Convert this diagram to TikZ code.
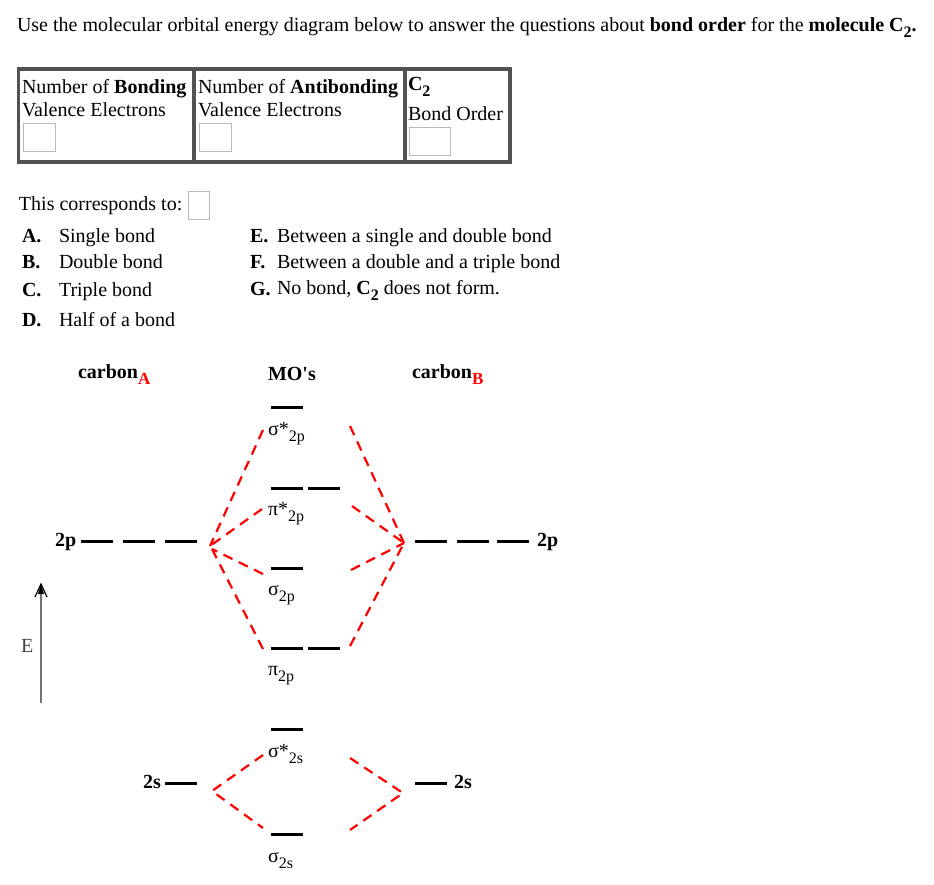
\documentclass[tikz,border=0pt]{standalone}
\usepackage{fontspec}
\setmainfont{Liberation Serif}[Ligatures=TeXOff]
\newcommand{\subtxt}[1]{\raisebox{-0.32em}{\fontsize{16}{16}\selectfont #1}}
\tikzset{
  txt/.style={anchor=base west,inner sep=0pt,outer sep=0pt,text=black,font=\fontsize{20}{22}\selectfont},
  lab/.style={txt,font=\fontsize{20}{22}\selectfont\bfseries},
  orb/.style={txt,font=\fontsize{20}{22}\selectfont},
  level/.style={fill=black,draw=none,inner sep=0pt,minimum height=3pt,minimum width=32pt},
  inbox/.style={draw=black!28,line width=0.9pt,fill=white,inner sep=0pt,anchor=north west},
  cell/.style={draw=black!68,line width=3.4pt,fill=none},
  mix/.style={draw=red,line width=2.2pt,dash pattern=on 10pt off 7pt}
}
\begin{document}
\begin{tikzpicture}[x=1pt,y=-1pt]
\useasboundingbox (0,0) rectangle (934,884);
\node[txt] (intro) at (17,31) {Use the molecular orbital energy diagram below to answer the questions about \textbf{bond order} for the \textbf{molecule C\subtxt{2}.}};
% table
\draw[cell] (18.5,69) rectangle (194,162);
\draw[cell] (194,69) rectangle (405,162);
\draw[cell] (405,69) rectangle (510,162);
\node[txt] (c1a) at (22,93) {Number of \textbf{Bonding}};
\node[txt] (c1b) at (22,116) {Valence Electrons};
\node[txt] (c2a) at (198,93) {Number of \textbf{Antibonding}};
\node[txt] (c2b) at (198,116) {Valence Electrons};
\node[txt] (c3a) at (408,90) {\textbf{C\subtxt{2}}};
\node[txt] (c3b) at (408,120) {Bond Order};
\node[inbox,minimum width=32pt,minimum height=28pt] (in1) at (23,123) {};
\node[inbox,minimum width=32pt,minimum height=28pt] (in2) at (199,123) {};
\node[inbox,minimum width=41pt,minimum height=28pt] (in3) at (409,127) {};
\node[txt] (corr) at (19,210) {This corresponds to:};
\node[inbox,minimum width=21pt,minimum height=28pt] (in4) at (188,191) {};
% options
\node[txt] (oa) at (22,242) {\textbf{A.}};
\node[txt] (ta) at (59,242) {Single bond};
\node[txt] (ob) at (22,268) {\textbf{B.}};
\node[txt] (tb) at (59,268) {Double bond};
\node[txt] (oc) at (22,296) {\textbf{C.}};
\node[txt] (tc) at (59,296) {Triple bond};
\node[txt] (od) at (22,326) {\textbf{D.}};
\node[txt] (td) at (59,326) {Half of a bond};
\node[txt] (oe) at (250,242) {\textbf{E.}};
\node[txt] (te) at (277,242) {Between a single and double bond};
\node[txt] (of) at (250,268) {\textbf{F.}};
\node[txt] (tf) at (277,268) {Between a double and a triple bond};
\node[txt] (og) at (250,295) {\textbf{G.}};
\node[txt] (tg) at (277,294) {No bond, \textbf{C\subtxt{2}} does not form.};
% headers
\node[lab] (carbA) at (78,378) {carbon\raisebox{-0.3em}{\textcolor{red}{\fontsize{17}{17}\selectfont A}}};
\node[lab] (mos) at (268,380) {MO's};
\node[lab] (carbB) at (412,378) {carbon\raisebox{-0.3em}{\textcolor{red}{\fontsize{17}{17}\selectfont B}}};
% MO levels
\node[level] (ss2p) at (287,407) {};
\node[level] (ps2pa) at (287,488) {};
\node[level] (ps2pb) at (324,488) {};
\node[level] (s2p) at (287,568) {};
\node[level] (p2pa) at (287,648) {};
\node[level] (p2pb) at (324,648) {};
\node[level] (ss2s) at (287,729) {};
\node[level] (s2s) at (287,834) {};
% atom levels
\node[level] (la) at (97,541) {};
\node[level] (lb) at (139,541) {};
\node[level] (lc) at (181,541) {};
\node[level] (ra) at (431,541) {};
\node[level] (rb) at (473,541) {};
\node[level] (rc) at (513,541) {};
\node[level] (ls) at (181,783) {};
\node[level] (rs) at (431,783) {};
\node[lab] (l2p) at (55,546) {2p};
\node[lab] (r2p) at (537,546) {2p};
\node[lab] (l2s) at (143,788) {2s};
\node[lab] (r2s) at (454,788) {2s};
% orbital labels
\node[orb] (tss2p) at (268,435) {σ*\subtxt{2p}};
\node[orb] (tps2p) at (268,515) {π*\subtxt{2p}};
\node[orb] (ts2p) at (268,595) {σ\subtxt{2p}};
\node[orb] (tp2p) at (268,675) {π\subtxt{2p}};
\node[orb] (tss2s) at (268,757) {σ*\subtxt{2s}};
\node[orb] (ts2s) at (268,862) {σ\subtxt{2s}};
% red connectors
\coordinate (LA) at (210,546);
\coordinate (LB) at (212,549);
\coordinate (RA) at (404,543);
\coordinate (l1) at (263,430);
\coordinate (l2) at (262,509);
\coordinate (l3) at (263,574);
\coordinate (l4) at (263,649);
\coordinate (r1) at (350,426);
\coordinate (r2) at (352,506);
\coordinate (r3) at (351,570);
\coordinate (r4) at (350,646);
\draw[mix] (l1) -- (LA);
\draw[mix] (l2) -- (LA);
\draw[mix] (l3) -- (LB);
\draw[mix] (l4) -- (LB);
\draw[mix] (r1) -- (RA);
\draw[mix] (r2) -- (RA);
\draw[mix] (r3) -- (RA);
\draw[mix] (r4) -- (RA);
\coordinate (LS) at (212,791);
\coordinate (RS) at (403,793);
\coordinate (sl1) at (263,755);
\coordinate (sl2) at (263,828);
\coordinate (sr1) at (350,758);
\coordinate (sr2) at (350,830);
\draw[mix] (sl1) -- (LS) -- (sl2);
\draw[mix] (sr1) -- (RS) -- (sr2);
% energy axis
\coordinate (ebot) at (41,703);
\coordinate (etop) at (41,583);
\draw[draw=black!55,line width=1.5pt] (ebot) -- (41,592);
\draw[black,line width=1.2pt] (35,597) -- (41,584) -- (47,597);
\fill[black] (41,584) -- (44,594) -- (38,594) -- cycle;
\node[txt] (E) at (21,652) {\textcolor{black!75}{E}};
\end{tikzpicture}
\end{document}
